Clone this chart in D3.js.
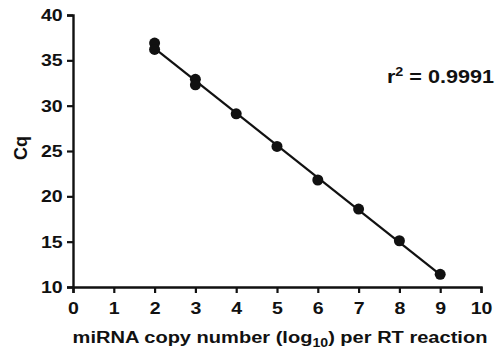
<!DOCTYPE html>
<html>
<head>
<meta charset="utf-8">
<script src="https://cdn.jsdelivr.net/npm/d3@7"></script>
<style>
  body { margin: 0; background: #fff; }
  svg text { font-family: "Liberation Sans", Arial, sans-serif; font-weight: bold; fill: #111; }
</style>
</head>
<body>
<figure id="chart" style="margin:0"></figure>
<script>
// log10 copy number and measured Cq
const copies = [2, 2, 3, 3, 4, 5, 6, 7, 8, 9];
const cq = [36.9, 36.2, 32.9, 32.3, 29.1, 25.5, 21.8, 18.6, 15.1, 11.4];
const xTicks = [0, 1, 2, 3, 4, 5, 6, 7, 8, 9, 10];
const yTicks = [10, 15, 20, 25, 30, 35, 40];
const rSquared = "0.9991";

const width = 499, height = 351;
const margin = { left: 73, right: 18, top: 15, bottom: 64 };

const svg = d3.select("figure#chart")
  .append("svg")
  .attr("width", width)
  .attr("height", height);

const x = d3.scaleLinear().domain([0, 10]).range([margin.left, width - margin.right]);
const y = d3.scaleLinear().domain([10, 40]).range([height - margin.bottom, margin.top]);

// x axis
const gx = svg.append("g")
  .attr("transform", "translate(0," + y(10) + ")")
  .call(d3.axisBottom(x).tickValues(xTicks).tickSize(6).tickPadding(9).tickFormat(d3.format("d")));
gx.select(".domain").attr("stroke-width", 2.4).attr("stroke", "#111");
gx.selectAll(".tick line").attr("stroke-width", 2.2).attr("stroke", "#111");
gx.selectAll("text")
  .style("font-size", "17px").style("font-family", "Liberation Sans, Arial, sans-serif").style("font-weight", "bold")
  .attr("transform", "scale(1.15,1)");

// y axis
const gy = svg.append("g")
  .attr("transform", "translate(" + x(0) + ",0)")
  .call(d3.axisLeft(y).tickValues(yTicks).tickSize(6).tickPadding(3));
gy.select(".domain").attr("stroke-width", 2.4).attr("stroke", "#111");
gy.selectAll(".tick line").attr("stroke-width", 2.2).attr("stroke", "#111");
gy.selectAll("text")
  .style("font-size", "17px").style("font-family", "Liberation Sans, Arial, sans-serif").style("font-weight", "bold")
  .attr("transform", "scale(1.15,1)");

// least squares fit
const mx = d3.mean(copies), my = d3.mean(cq);
const slope = d3.sum(copies, (d, i) => (d - mx) * (cq[i] - my)) / d3.sum(copies, d => (d - mx) * (d - mx));
const icpt = my - slope * mx;
const xr = d3.extent(copies);

svg.append("line")
  .attr("x1", x(xr[0])).attr("y1", y(icpt + slope * xr[0]))
  .attr("x2", x(xr[1])).attr("y2", y(icpt + slope * xr[1]))
  .attr("stroke", "#111")
  .attr("stroke-width", 2.2);

svg.selectAll("circle")
  .data(copies)
  .enter()
  .append("circle")
  .attr("cx", d => x(d))
  .attr("cy", (d, i) => y(cq[i]))
  .attr("r", 5.5)
  .attr("fill", "#111");

// labels
svg.append("text")
  .attr("transform", "translate(27,148) rotate(-90)")
  .attr("text-anchor", "middle")
  .style("font-size", "18px")
  .text("Cq");

const xl = svg.append("text")
  .attr("transform", "translate(" + ((x(0) + x(10)) / 2 + 3) + ",343) scale(1.18,1)")
  .attr("text-anchor", "middle")
  .style("font-size", "17px");
xl.append("tspan").text("miRNA copy number (log");
xl.append("tspan").attr("dy", 4).style("font-size", "12px").text("10");
xl.append("tspan").attr("dy", -4).text(") per RT reaction");

const rt = svg.append("text")
  .attr("transform", "translate(494,83) scale(1.2,1)")
  .attr("text-anchor", "end")
  .style("font-size", "18px");
rt.append("tspan").text("r");
rt.append("tspan").attr("dy", -7).style("font-size", "12px").text("2");
rt.append("tspan").attr("dy", 7).text(" = " + rSquared);
</script>
</body>
</html>
